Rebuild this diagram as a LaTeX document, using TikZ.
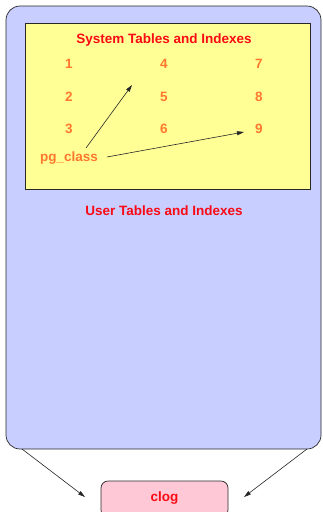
\documentclass[tikz,border=0pt]{standalone}
\usepackage{fontspec}
\setmainfont{Liberation Sans}
\usetikzlibrary{arrows.meta}
\definecolor{bluefill}{RGB}{200,206,255}
\definecolor{yellowfill}{RGB}{255,255,150}
\definecolor{pinkfill}{RGB}{255,200,215}
\definecolor{redtext}{RGB}{250,10,20}
\definecolor{orangetext}{RGB}{255,120,45}
\definecolor{edge}{RGB}{40,40,40}
\tikzset{
  title/.style={text=redtext, font=\bfseries\fontsize{13.5}{15}\selectfont},
  num/.style={text=orangetext, font=\bfseries\fontsize{13.5}{15}\selectfont},
  arr/.style={-{Stealth[length=7pt,width=4pt,inset=0pt]}, line width=0.6pt, draw=black!85},
}
\begin{document}
\begin{tikzpicture}[x=1pt,y=-1pt]
\useasboundingbox (0,0) rectangle (322,512);
\node[draw=edge, line width=0.7pt, fill=bluefill, rounded corners=14pt, minimum width=315pt, minimum height=443pt, inner sep=0pt] (outer) at (163.5,227.5) {};
\node[draw=edge, line width=0.7pt, fill=yellowfill, minimum width=285pt, minimum height=166pt, inner sep=0pt] (sys) at (167.5,106.5) {};
\node[title] (systitle) at (164,40) {System Tables and Indexes};
\node[num] (n1) at (69,64) {1};
\node[num] (n2) at (69,97) {2};
\node[num] (n3) at (69,129) {3};
\node[num] (n4) at (164,64) {4};
\node[num] (n5) at (164,97) {5};
\node[num] (n6) at (164,129) {6};
\node[num] (n7) at (259,64) {7};
\node[num] (n8) at (259,97) {8};
\node[num] (n9) at (259,129) {9};
\node[num] (pg) at (69,158) {pg\_class};
\coordinate (t1) at (132,85);
\coordinate (s1) at (86,148);
\coordinate (s2) at (107,157);
\coordinate (t2) at (244,132);
\draw[arr] (s1) -- (t1);
\draw[arr] (s2) -- (t2);
\node[title] (usertitle) at (164,211) {User Tables and Indexes};
\node[draw=edge, line width=0.7pt, fill=pinkfill, rounded corners=7pt, minimum width=127pt, minimum height=36pt, inner sep=0pt] (clogbox) at (164.5,499) {};
\node[title] (clog) at (164.5,498) {clog};
\coordinate (a1) at (22,449);
\coordinate (b1) at (85,497);
\coordinate (a2) at (307,449);
\coordinate (b2) at (244,497);
\draw[arr] (a1) -- (b1);
\draw[arr] (a2) -- (b2);
\end{tikzpicture}
\end{document}
